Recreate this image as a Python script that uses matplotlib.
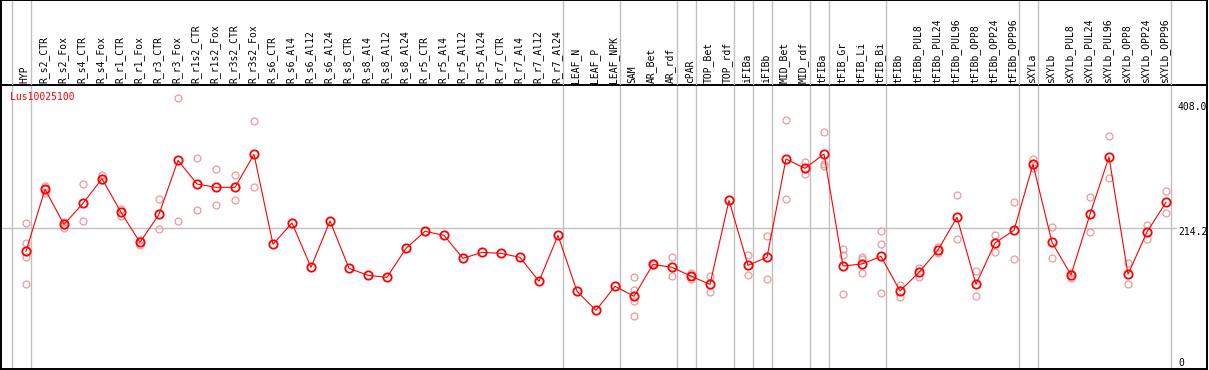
import matplotlib
matplotlib.use('Agg')
import matplotlib.pyplot as plt
from matplotlib.transforms import blended_transform_factory

categories = ["HYP", "R_s2_CTR", "R_s2_Fox", "R_s4_CTR", "R_s4_Fox", "R_r1_CTR", "R_r1_Fox",
              "R_r3_CTR", "R_r3_Fox", "R_r1s2_CTR", "R_r1s2_Fox", "R_r3s2_CTR", "R_r3s2_Fox",
              "R_s6_CTR", "R_s6_Al4", "R_s6_Al12", "R_s6_Al24", "R_s8_CTR", "R_s8_Al4",
              "R_s8_Al12", "R_s8_Al24", "R_r5_CTR", "R_r5_Al4", "R_r5_Al12", "R_r5_Al24",
              "R_r7_CTR", "R_r7_Al4", "R_r7_Al12", "R_r7_Al24", "LEAF_N", "LEAF_P", "LEAF_NPK",
              "SAM", "AR_Bet", "AR_rdf", "cPAR", "TOP_Bet", "TOP_rdf", "iFIBa", "iFIBb",
              "MID_Bet", "MID_rdf", "tFIBa", "tFIB_Gr", "tFIB_Li", "tFIB_Bi", "tFIBb",
              "tFIBb_PUL8", "tFIBb_PUL24", "tFIBb_PUL96", "tFIBb_OPP8", "tFIBb_OPP24",
              "tFIBb_OPP96", "sXYLa", "sXYLb", "sXYLb_PUL8", "sXYLb_PUL24", "sXYLb_PUL96",
              "sXYLb_OPP8", "sXYLb_OPP24", "sXYLb_OPP96"]

mean_values = [178.6, 274.5, 220.3, 252.8, 291.0, 238.9, 192.5, 235.8, 319.3, 282.7,
               277.6, 277.6, 328.6, 189.4, 222.4, 153.8, 225.5, 152.3, 141.5, 138.4,
               183.2, 209.5, 203.3, 167.7, 177.0, 175.5, 169.3, 132.2, 203.3, 116.7,
               87.3, 124.4, 109.0, 158.5, 153.8, 140.2, 127.5, 257.4, 156.9, 169.3,
               321.4, 306.9, 329.1, 155.9, 159.0, 170.8, 117.2, 146.1, 180.6, 231.2,
               127.5, 191.5, 211.1, 313.1, 192.5, 142.0, 235.8, 324.5, 143.0, 208.5,
               254.4]

replicates = [
    [221.9, 191.5, 170.3, 127.5],   # HYP
    [279.6, 274.5, 269.3],          # R_s2_CTR
    [224.5, 219.3, 215.2],          # R_s2_Fox
    [282.2, 225.0],                 # R_s4_CTR
    [296.6, 288.9],                 # R_s4_Fox
    [244.0, 233.7],                 # R_r1_CTR
    [195.6, 188.4],                 # R_r1_Fox
    [259.0, 212.6],                 # R_r3_CTR
    [415.2, 225.0],                 # R_r3_Fox
    [322.4, 242.0],                 # R_r1s2_CTR
    [305.4, 249.7],                 # R_r1s2_Fox
    [296.1, 257.4],                 # R_r3s2_CTR
    [380.1, 277.6],                 # R_r3s2_Fox
    [], [], [], [], [], [], [], [], [], [], [], [], [], [], [], [], [], [], [],
    [138.4, 118.8, 102.3, 78.1],    # SAM
    [160.0, 156.9],                 # AR_Bet
    [169.3, 139.9],                 # AR_rdf
    [145.0, 140.0, 135.5],          # cPAR
    [140.4, 115.2],                 # TOP_Bet
    [],                             # TOP_rdf
    [172.9, 141.5],                 # iFIBa
    [201.8, 135.3],                 # iFIBb
    [381.2, 259.0],                 # MID_Bet
    [316.2, 297.7],                 # MID_rdf
    [363.1, 313.1, 310.0],          # tFIBa
    [182.2, 172.9, 112.1],          # tFIB_Gr
    [169.3, 166.2, 144.6],          # tFIB_Li
    [210.0, 189.9, 113.6],          # tFIB_Bi
    [126.5, 107.4],                 # tFIBb
    [153.3, 138.9],                 # tFIBb_PUL8
    [184.8, 175.5],                 # tFIBb_PUL24
    [265.7, 197.7],                 # tFIBb_PUL96
    [148.2, 109.5],                 # tFIBb_OPP8
    [203.8, 177.0],                 # tFIBb_OPP24
    [254.9, 166.7],                 # tFIBb_OPP96
    [321.4, 306.9],                 # sXYLa
    [215.7, 168.3],                 # sXYLb
    [145.6, 136.8],                 # sXYLb_PUL8
    [262.1, 208.5],                 # sXYLb_PUL24
    [356.9, 291.5],                 # sXYLb_PUL96
    [160.0, 127.5],                 # sXYLb_OPP8
    [219.3, 197.1],                 # sXYLb_OPP24
    [271.4, 237.3],                 # sXYLb_OPP96
]

separators_after = [-1, 0, 28, 31, 34, 35, 37, 38, 39, 41, 42, 45, 52, 53, 60]
gene_name = "Lus10025100"
y_ticks = [408.0, 214.2, 0.0]
y_tick_labels = ["408.0", "214.2", "0"]

W, H = 1209, 370
fig = plt.figure(figsize=(W / 100, H / 100), dpi=100)
fig.patch.set_facecolor('white')

FONT = 'DejaVu Sans Mono'
FS = 7
GRAY = '#C0C0C0'
PINK = '#EE9A9A'

xmin = -25 / 19
xmax = xmin + 1206 / 19
ymin = (366.8 - 369) / 0.6466
ymax = (366.8 - 85) / 0.6466

ax = fig.add_axes([1 / W, 1 - 369 / H, 1206 / W, 284 / H])
hx = fig.add_axes([1 / W, 1 - 85 / H, 1206 / W, 85 / H])

for a in (ax, hx):
    a.set_xlim(xmin, xmax)
    a.set_xticks([])
    a.set_yticks([])
    a.set_facecolor('none')
    for s in a.spines.values():
        s.set_color('black')
        s.set_linewidth(1.4)
ax.set_ylim(ymin, ymax)
hx.set_ylim(0, 1)
hx.spines['bottom'].set_visible(False)

# vertical separators across header and plot
for i in separators_after:
    xs = i + 5 / 19
    ax.axvline(xs, color=GRAY, lw=1.0, zorder=1)
    hx.axvline(xs, color=GRAY, lw=1.0, zorder=1)

# horizontal grid line at middle tick
ax.plot([xmin, 60.55], [y_ticks[1], y_ticks[1]], color=GRAY, lw=1.0, zorder=1)

# replicate points
for i, reps in enumerate(replicates):
    if reps:
        ax.plot([i] * len(reps), reps, linestyle='none', marker='o', mfc='none',
                mec=PINK, ms=5, mew=0.9, zorder=2)

# mean line
x = list(range(len(categories)))
ax.plot(x, mean_values, color='#FF0000', lw=0.8, marker='o', mfc='none',
        mec='#FF0000', ms=6, mew=1.3, zorder=3)

# header labels
tr = blended_transform_factory(hx.transData, hx.transAxes)
for i, lab in enumerate(categories):
    hx.text(i - 0.07, 2 / 85, lab, rotation=90, ha='center', va='bottom',
            fontsize=FS, family=FONT, color='black', transform=tr)

# right value labels
offsets = [-4, -4, 4]
for v, lab, off in zip(y_ticks, y_tick_labels, offsets):
    ax.annotate(lab, xy=(60.63, v), xytext=(0, off * 0.72), textcoords='offset points',
                ha='left', va='center', fontsize=FS, family=FONT, color='black',
                annotation_clip=False)

fig.text(10 / W, 1 - 97 / H, gene_name, ha='left', va='center', fontsize=FS,
         family=FONT, color='#FF0000')

fig.savefig('out.png', dpi=100)
